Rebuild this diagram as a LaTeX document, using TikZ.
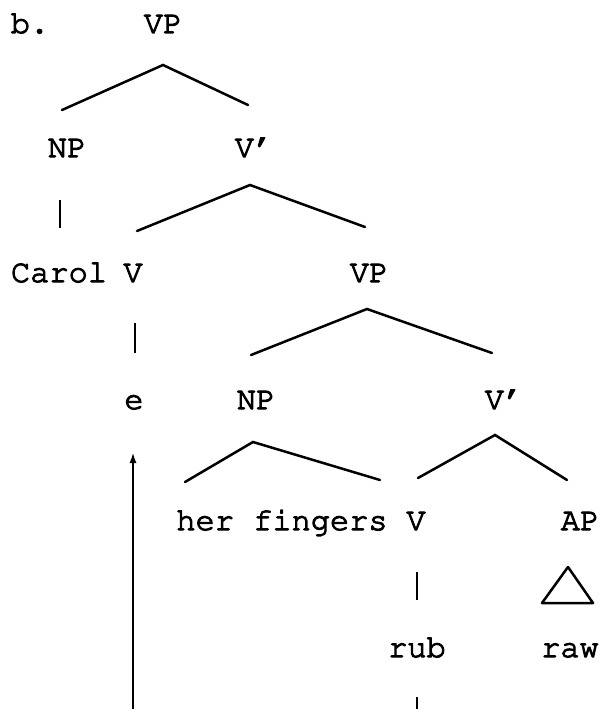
\documentclass[tikz,border=0pt]{standalone}
\usepackage[T1]{fontenc}
\usepackage{courier}
\usetikzlibrary{arrows.meta}
\newcommand\tlab[1]{\special{pdf:literal direct 2 Tr 1.1 w 1 j}#1\special{pdf:literal direct 0 Tr 0.4 w 0 j}}
\tikzset{
  lab/.style={font=\fontsize{32}{38}\selectfont\ttfamily, inner sep=0pt, anchor=base},
  branch/.style={line width=2.5pt, line cap=round},
  stem/.style={line width=1.8pt},
  move/.style={line width=2.2pt, -{Latex[length=11pt,width=7pt]}}
}
\begin{document}
\begin{tikzpicture}[x=1pt,y=-1pt]
\useasboundingbox (0,0) rectangle (601,709);
% labels
\node[lab] (b) at (30,33) {\tlab{b.}};
\node[lab] (vp0) at (163,33) {\tlab{VP}};
\node[lab] (np1) at (67,157) {\tlab{NP}};
\node[lab] (vb1) at (254,157) {\tlab{V'}};
\node[lab] (carol) at (59,282) {\tlab{Carol}};
\node[lab] (v2) at (133,282) {\tlab{V}};
\node[lab] (vp2) at (369,282) {\tlab{VP}};
\node[lab] (e) at (134,409) {\tlab{e}};
\node[lab] (np3) at (256,409) {\tlab{NP}};
\node[lab] (vb3) at (504,409) {\tlab{V'}};
\node[lab] (her) at (282,530) {\tlab{her fingers}};
\node[lab] (v4) at (416,530) {\tlab{V}};
\node[lab] (ap) at (580,530) {\tlab{AP}};
\node[lab] (rub) at (417,657) {\tlab{rub}};
\node[lab] (raw) at (570,657) {\tlab{raw}};
% branch points
\coordinate (vp0-a) at (163,65);  \coordinate (vp0-l) at (62,110);  \coordinate (vp0-r) at (248,105);
\coordinate (np1-t) at (60,200);  \coordinate (np1-b) at (60,228);
\coordinate (vb1-a) at (250,185); \coordinate (vb1-l) at (137,231); \coordinate (vb1-r) at (365,227);
\coordinate (v2-t) at (135,323);  \coordinate (v2-b) at (135,353);
\coordinate (vp2-a) at (367,309); \coordinate (vp2-l) at (251,355); \coordinate (vp2-r) at (492,353);
\coordinate (np3-a) at (253,442); \coordinate (np3-l) at (185,482); \coordinate (np3-r) at (380,480);
\coordinate (vb3-a) at (495,435); \coordinate (vb3-l) at (418,478); \coordinate (vb3-r) at (567,480);
\coordinate (v4-t) at (417,572);  \coordinate (v4-b) at (417,600);
\coordinate (ap-a) at (568,567);  \coordinate (ap-l) at (542,603); \coordinate (ap-r) at (593,603);
\coordinate (rub-t) at (417,697); \coordinate (rub-b) at (417,712);
\coordinate (mv-s) at (133,712);  \coordinate (mv-e) at (133,452);
% edges
\draw[branch] (vp0-l) -- (vp0-a) -- (vp0-r);
\draw[stem] (np1-t) -- (np1-b);
\draw[branch] (vb1-l) -- (vb1-a) -- (vb1-r);
\draw[stem] (v2-t) -- (v2-b);
\draw[branch] (vp2-l) -- (vp2-a) -- (vp2-r);
\draw[branch] (np3-l) -- (np3-a) -- (np3-r);
\draw[branch] (vb3-l) -- (vb3-a) -- (vb3-r);
\draw[stem] (v4-t) -- (v4-b);
\draw[branch, line join=round] (ap-a) -- (ap-l) -- (ap-r) -- cycle;
\draw[stem] (rub-t) -- (rub-b);
\draw[move] (mv-s) -- (mv-e);
\end{tikzpicture}
\end{document}
